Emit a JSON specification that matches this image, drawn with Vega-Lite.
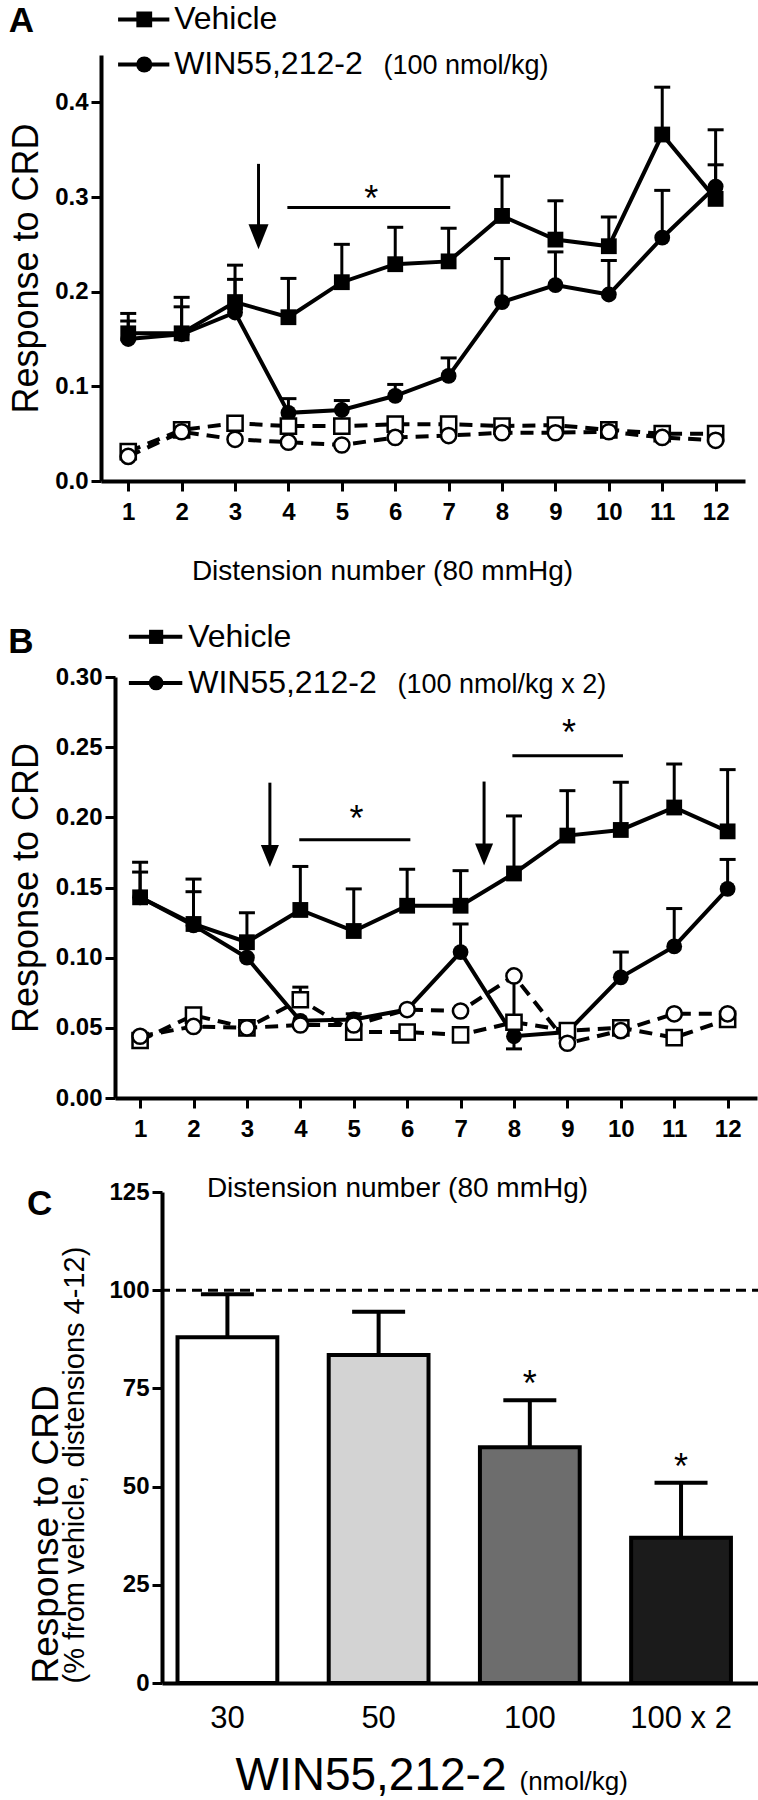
{
  "$schema": "https://vega.github.io/schema/vega-lite/v6.json",
  "padding": {"left": 1, "top": 3, "right": 0, "bottom": 0},
  "background": "white",
  "config": {
    "font": "Liberation Sans",
    "view": {"stroke": null},
    "axis": {"domainColor": "black", "domainWidth": 4, "tickColor": "black", "tickWidth": 3, "tickSize": 10, "labelColor": "black", "titleColor": "black", "grid": false, "labelFontWeight": "bold", "labelFontSize": 24, "titleFontWeight": "normal", "labelPadding": 3, "labelFlush": false, "labelOverlap": false},
    "title": {"color": "black", "fontWeight": "bold", "fontSize": 35, "font": "Liberation Sans"},
    "text": {"color": "black", "font": "Liberation Sans"},
    "point": {"opacity": 1},
    "tick": {"opacity": 1}
  },
  "datasets": {
    "a": [
      {"n":1,"drug":"Vehicle","style":"filled","value":0.156,"end":0.177},
      {"n":2,"drug":"Vehicle","style":"filled","value":0.156,"end":0.194},
      {"n":3,"drug":"Vehicle","style":"filled","value":0.189,"end":0.228},
      {"n":4,"drug":"Vehicle","style":"filled","value":0.173,"end":0.214},
      {"n":5,"drug":"Vehicle","style":"filled","value":0.210,"end":0.250},
      {"n":6,"drug":"Vehicle","style":"filled","value":0.229,"end":0.268},
      {"n":7,"drug":"Vehicle","style":"filled","value":0.232,"end":0.267},
      {"n":8,"drug":"Vehicle","style":"filled","value":0.280,"end":0.322},
      {"n":9,"drug":"Vehicle","style":"filled","value":0.255,"end":0.296},
      {"n":10,"drug":"Vehicle","style":"filled","value":0.248,"end":0.279},
      {"n":11,"drug":"Vehicle","style":"filled","value":0.366,"end":0.416},
      {"n":12,"drug":"Vehicle","style":"filled","value":0.298,"end":0.371},
      {"n":1,"drug":"WIN","style":"filled","value":0.150,"end":0.169},
      {"n":2,"drug":"WIN","style":"filled","value":0.155,"end":0.184},
      {"n":3,"drug":"WIN","style":"filled","value":0.178,"end":0.213},
      {"n":4,"drug":"WIN","style":"filled","value":0.072,"end":0.087},
      {"n":5,"drug":"WIN","style":"filled","value":0.075,"end":0.085},
      {"n":6,"drug":"WIN","style":"filled","value":0.090,"end":0.102},
      {"n":7,"drug":"WIN","style":"filled","value":0.111,"end":0.130},
      {"n":8,"drug":"WIN","style":"filled","value":0.189,"end":0.235},
      {"n":9,"drug":"WIN","style":"filled","value":0.207,"end":0.242},
      {"n":10,"drug":"WIN","style":"filled","value":0.197,"end":0.233},
      {"n":11,"drug":"WIN","style":"filled","value":0.257,"end":0.307},
      {"n":12,"drug":"WIN","style":"filled","value":0.311,"end":0.334},
      {"n":1,"drug":"Vehicle","style":"open","value":0.031,"end":null},
      {"n":2,"drug":"Vehicle","style":"open","value":0.054,"end":null},
      {"n":3,"drug":"Vehicle","style":"open","value":0.061,"end":null},
      {"n":4,"drug":"Vehicle","style":"open","value":0.058,"end":null},
      {"n":5,"drug":"Vehicle","style":"open","value":0.058,"end":null},
      {"n":6,"drug":"Vehicle","style":"open","value":0.060,"end":null},
      {"n":7,"drug":"Vehicle","style":"open","value":0.060,"end":null},
      {"n":8,"drug":"Vehicle","style":"open","value":0.058,"end":null},
      {"n":9,"drug":"Vehicle","style":"open","value":0.059,"end":null},
      {"n":10,"drug":"Vehicle","style":"open","value":0.054,"end":null},
      {"n":11,"drug":"Vehicle","style":"open","value":0.050,"end":null},
      {"n":12,"drug":"Vehicle","style":"open","value":0.050,"end":null},
      {"n":1,"drug":"WIN","style":"open","value":0.026,"end":null},
      {"n":2,"drug":"WIN","style":"open","value":0.052,"end":null},
      {"n":3,"drug":"WIN","style":"open","value":0.044,"end":null},
      {"n":4,"drug":"WIN","style":"open","value":0.041,"end":null},
      {"n":5,"drug":"WIN","style":"open","value":0.038,"end":null},
      {"n":6,"drug":"WIN","style":"open","value":0.046,"end":null},
      {"n":7,"drug":"WIN","style":"open","value":0.048,"end":null},
      {"n":8,"drug":"WIN","style":"open","value":0.051,"end":null},
      {"n":9,"drug":"WIN","style":"open","value":0.051,"end":null},
      {"n":10,"drug":"WIN","style":"open","value":0.052,"end":null},
      {"n":11,"drug":"WIN","style":"open","value":0.046,"end":null},
      {"n":12,"drug":"WIN","style":"open","value":0.043,"end":null}
    ],
    "b": [
      {"n":1,"drug":"Vehicle","style":"filled","value":0.143,"end":0.168},
      {"n":2,"drug":"Vehicle","style":"filled","value":0.124,"end":0.156},
      {"n":3,"drug":"Vehicle","style":"filled","value":0.111,"end":0.132},
      {"n":4,"drug":"Vehicle","style":"filled","value":0.134,"end":0.165},
      {"n":5,"drug":"Vehicle","style":"filled","value":0.119,"end":0.149},
      {"n":6,"drug":"Vehicle","style":"filled","value":0.137,"end":0.163},
      {"n":7,"drug":"Vehicle","style":"filled","value":0.137,"end":0.162},
      {"n":8,"drug":"Vehicle","style":"filled","value":0.160,"end":0.201},
      {"n":9,"drug":"Vehicle","style":"filled","value":0.187,"end":0.219},
      {"n":10,"drug":"Vehicle","style":"filled","value":0.191,"end":0.225},
      {"n":11,"drug":"Vehicle","style":"filled","value":0.207,"end":0.238},
      {"n":12,"drug":"Vehicle","style":"filled","value":0.190,"end":0.234},
      {"n":1,"drug":"WIN","style":"filled","value":0.143,"end":0.161},
      {"n":2,"drug":"WIN","style":"filled","value":0.123,"end":0.147},
      {"n":3,"drug":"WIN","style":"filled","value":0.100,"end":null},
      {"n":4,"drug":"WIN","style":"filled","value":0.055,"end":null},
      {"n":5,"drug":"WIN","style":"filled","value":0.056,"end":0.060},
      {"n":6,"drug":"WIN","style":"filled","value":0.063,"end":null},
      {"n":7,"drug":"WIN","style":"filled","value":0.104,"end":0.124},
      {"n":8,"drug":"WIN","style":"filled","value":0.044,"end":0.035},
      {"n":9,"drug":"WIN","style":"filled","value":0.047,"end":null},
      {"n":10,"drug":"WIN","style":"filled","value":0.086,"end":0.104},
      {"n":11,"drug":"WIN","style":"filled","value":0.108,"end":0.135},
      {"n":12,"drug":"WIN","style":"filled","value":0.149,"end":0.170},
      {"n":1,"drug":"Vehicle","style":"open","value":0.041,"end":null},
      {"n":2,"drug":"Vehicle","style":"open","value":0.059,"end":null},
      {"n":3,"drug":"Vehicle","style":"open","value":0.050,"end":null},
      {"n":4,"drug":"Vehicle","style":"open","value":0.070,"end":0.079},
      {"n":5,"drug":"Vehicle","style":"open","value":0.047,"end":null},
      {"n":6,"drug":"Vehicle","style":"open","value":0.047,"end":null},
      {"n":7,"drug":"Vehicle","style":"open","value":0.045,"end":null},
      {"n":8,"drug":"Vehicle","style":"open","value":0.054,"end":null},
      {"n":9,"drug":"Vehicle","style":"open","value":0.048,"end":null},
      {"n":10,"drug":"Vehicle","style":"open","value":0.050,"end":null},
      {"n":11,"drug":"Vehicle","style":"open","value":0.043,"end":null},
      {"n":12,"drug":"Vehicle","style":"open","value":0.056,"end":null},
      {"n":1,"drug":"WIN","style":"open","value":0.044,"end":null},
      {"n":2,"drug":"WIN","style":"open","value":0.051,"end":null},
      {"n":3,"drug":"WIN","style":"open","value":0.050,"end":null},
      {"n":4,"drug":"WIN","style":"open","value":0.052,"end":null},
      {"n":5,"drug":"WIN","style":"open","value":0.052,"end":null},
      {"n":6,"drug":"WIN","style":"open","value":0.063,"end":null},
      {"n":7,"drug":"WIN","style":"open","value":0.062,"end":null},
      {"n":8,"drug":"WIN","style":"open","value":0.087,"end":0.058},
      {"n":9,"drug":"WIN","style":"open","value":0.039,"end":null},
      {"n":10,"drug":"WIN","style":"open","value":0.048,"end":null},
      {"n":11,"drug":"WIN","style":"open","value":0.060,"end":null},
      {"n":12,"drug":"WIN","style":"open","value":0.060,"end":null}
    ],
    "c": [
      {"dose":"30","value":88,"end":99,"star":false},
      {"dose":"50","value":83.5,"end":94.5,"star":false},
      {"dose":"100","value":60,"end":72,"star":true},
      {"dose":"100 x 2","value":37,"end":51,"star":true}
    ]
  },
  "spacing": 35,
  "vconcat": [
    {
      "spacing": 0,
      "hconcat": [
        {"width": 1, "height": 1, "data": {"values": [{}]}, "mark": {"type": "point", "opacity": 0}, "encoding": {}},
        {
          "width": 644,
          "height": 426,
          "title": {"text": "A", "anchor": "start", "frame": "bounds", "offset": -36},
          "layer": [
            {
              "data": {"name": "a"},
              "encoding": {
                "x": {"field": "n", "type": "quantitative", "scale": {"domain": [0.49, 12.55], "nice": false, "zero": false},
                  "axis": {"values": [1,2,3,4,5,6,7,8,9,10,11,12], "format": "d", "title": "Distension number (80 mmHg)", "titleFontSize": 28, "titleBaseline": "alphabetic", "titleY": 98, "titleX": 281, "titleAlign": "center", "labelPadding": 9}},
                "y": {"field": "value", "type": "quantitative", "scale": {"domain": [0, 0.45], "nice": false, "zero": false},
                  "axis": {"values": [0, 0.1, 0.2, 0.3, 0.4], "format": ".1f", "title": "Response to CRD", "titleFontSize": 36, "titlePadding": 9}}
              },
              "layer": [
                {"transform": [{"filter": "datum.style === 'open'"}], "mark": {"type": "line", "strokeDash": [13, 8], "strokeWidth": 4, "color": "black"}, "encoding": {"detail": {"field": "drug"}}},
                {"transform": [{"filter": "datum.style === 'filled'"}], "mark": {"type": "line", "strokeWidth": 4, "color": "black"}, "encoding": {"detail": {"field": "drug"}}},
                {"transform": [{"filter": "isValid(datum.end)"}], "mark": {"type": "rule", "strokeWidth": 3, "color": "black"}, "encoding": {"y2": {"field": "end"}}},
                {"transform": [{"filter": "isValid(datum.end)"}], "mark": {"type": "tick", "orient": "horizontal", "size": 16, "thickness": 3, "color": "black"}, "encoding": {"y": {"field": "end", "type": "quantitative"}}},
                {"transform": [{"filter": "datum.style === 'filled'"}], "mark": {"type": "point", "filled": true, "color": "black", "size": 250},
                  "encoding": {"shape": {"field": "drug", "type": "nominal", "scale": {"domain": ["Vehicle", "WIN"], "range": ["square", "circle"]}, "legend": null}}},
                {"transform": [{"filter": "datum.style === 'open'"}], "mark": {"type": "point", "filled": true, "fill": "white", "stroke": "black", "strokeWidth": 2.5, "size": 230},
                  "encoding": {"shape": {"field": "drug", "type": "nominal", "scale": {"domain": ["Vehicle", "WIN"], "range": ["square", "circle"]}, "legend": null}}}
              ]
            },
            {"data": {"values": [{}]}, "mark": {"type": "rule", "strokeWidth": 3, "color": "black"},
              "encoding": {"x": {"datum": 3.44, "type": "quantitative"}, "y": {"datum": 0.335, "type": "quantitative"}, "y2": {"datum": 0.262}}},
            {"data": {"values": [{}]}, "mark": {"type": "point", "shape": "M-0.8,-1L0.8,-1L0,1Z", "size": 625, "filled": true, "color": "black"},
              "encoding": {"x": {"datum": 3.44, "type": "quantitative"}, "y": {"datum": 0.258, "type": "quantitative"}}},
            {"data": {"values": [{}]}, "mark": {"type": "rule", "strokeWidth": 3, "color": "black"},
              "encoding": {"x": {"datum": 3.98, "type": "quantitative"}, "x2": {"datum": 7.03}, "y": {"datum": 0.289, "type": "quantitative"}}},
            {"data": {"values": [{}]}, "mark": {"type": "text", "text": "*", "fontSize": 36, "baseline": "alphabetic", "align": "center"},
              "encoding": {"x": {"datum": 5.55, "type": "quantitative"}, "y": {"datum": 0.2854, "type": "quantitative"}}},
            {"data": {"values": [{}]}, "mark": {"type": "rule", "strokeWidth": 4, "color": "black"},
              "encoding": {"x": {"datum": 0.81, "type": "quantitative"}, "x2": {"datum": 1.77}, "y": {"datum": 0.4876, "type": "quantitative"}}},
            {"data": {"values": [{}]}, "mark": {"type": "point", "shape": "square", "size": 250, "filled": true, "color": "black"},
              "encoding": {"x": {"datum": 1.3, "type": "quantitative"}, "y": {"datum": 0.4876, "type": "quantitative"}}},
            {"data": {"values": [{}]}, "mark": {"type": "text", "text": "Vehicle", "fontSize": 32, "baseline": "middle", "align": "left"},
              "encoding": {"x": {"datum": 1.86, "type": "quantitative"}, "y": {"datum": 0.4876, "type": "quantitative"}}},
            {"data": {"values": [{}]}, "mark": {"type": "rule", "strokeWidth": 4, "color": "black"},
              "encoding": {"x": {"datum": 0.81, "type": "quantitative"}, "x2": {"datum": 1.77}, "y": {"datum": 0.44, "type": "quantitative"}}},
            {"data": {"values": [{}]}, "mark": {"type": "point", "shape": "circle", "size": 260, "filled": true, "color": "black"},
              "encoding": {"x": {"datum": 1.3, "type": "quantitative"}, "y": {"datum": 0.44, "type": "quantitative"}}},
            {"data": {"values": [{}]}, "mark": {"type": "text", "text": "WIN55,212-2", "fontSize": 32, "baseline": "middle", "align": "left"},
              "encoding": {"x": {"datum": 1.86, "type": "quantitative"}, "y": {"datum": 0.44, "type": "quantitative"}}},
            {"data": {"values": [{}]}, "mark": {"type": "text", "text": "(100 nmol/kg)", "fontSize": 27, "baseline": "middle", "align": "left"},
              "encoding": {"x": {"datum": 5.78, "type": "quantitative"}, "y": {"datum": 0.438, "type": "quantitative"}}}
          ]
        }
      ]
    },
    {
      "columns": 1,
      "align": "none",
      "spacing": -22,
      "concat": [
        {
          "spacing": 0,
          "hconcat": [
            {"width": 1, "height": 1, "data": {"values": [{}]}, "mark": {"type": "point", "opacity": 0}, "encoding": {}},
            {
              "width": 642,
              "height": 421,
              "title": {"text": "B", "anchor": "start", "frame": "bounds", "offset": -39},
              "layer": [
                {
                  "data": {"name": "b"},
                  "encoding": {
                    "x": {"field": "n", "type": "quantitative", "scale": {"domain": [0.53, 12.55], "nice": false, "zero": false},
                      "axis": {"values": [1,2,3,4,5,6,7,8,9,10,11,12], "format": "d", "title": "Distension number (80 mmHg)", "titleFontSize": 28, "titleBaseline": "alphabetic", "titleY": 98, "titleX": 282, "titleAlign": "center", "labelPadding": 9}},
                    "y": {"field": "value", "type": "quantitative", "scale": {"domain": [0, 0.3], "nice": false, "zero": false},
                      "axis": {"values": [0, 0.05, 0.1, 0.15, 0.2, 0.25, 0.3], "format": ".2f", "title": "Response to CRD", "titleFontSize": 36, "titlePadding": 10}}
                  },
                  "layer": [
                    {"transform": [{"filter": "datum.style === 'open'"}], "mark": {"type": "line", "strokeDash": [13, 8], "strokeWidth": 4, "color": "black"}, "encoding": {"detail": {"field": "drug"}}},
                    {"transform": [{"filter": "datum.style === 'filled'"}], "mark": {"type": "line", "strokeWidth": 4, "color": "black"}, "encoding": {"detail": {"field": "drug"}}},
                    {"transform": [{"filter": "isValid(datum.end)"}], "mark": {"type": "rule", "strokeWidth": 3, "color": "black"}, "encoding": {"y2": {"field": "end"}}},
                    {"transform": [{"filter": "isValid(datum.end)"}], "mark": {"type": "tick", "orient": "horizontal", "size": 16, "thickness": 3, "color": "black"}, "encoding": {"y": {"field": "end", "type": "quantitative"}}},
                    {"transform": [{"filter": "datum.style === 'filled'"}], "mark": {"type": "point", "filled": true, "color": "black", "size": 250},
                      "encoding": {"shape": {"field": "drug", "type": "nominal", "scale": {"domain": ["Vehicle", "WIN"], "range": ["square", "circle"]}, "legend": null}}},
                    {"transform": [{"filter": "datum.style === 'open'"}], "mark": {"type": "point", "filled": true, "fill": "white", "stroke": "black", "strokeWidth": 2.5, "size": 230},
                      "encoding": {"shape": {"field": "drug", "type": "nominal", "scale": {"domain": ["Vehicle", "WIN"], "range": ["square", "circle"]}, "legend": null}}}
                  ]
                },
                {"data": {"values": [{}]}, "mark": {"type": "rule", "strokeWidth": 3, "color": "black"},
                  "encoding": {"x": {"datum": 3.43, "type": "quantitative"}, "y": {"datum": 0.2247, "type": "quantitative"}, "y2": {"datum": 0.176}}},
                {"data": {"values": [{}]}, "mark": {"type": "point", "shape": "M-0.82,-1L0.82,-1L0,1Z", "size": 484, "filled": true, "color": "black"},
                  "encoding": {"x": {"datum": 3.43, "type": "quantitative"}, "y": {"datum": 0.1725, "type": "quantitative"}}},
                {"data": {"values": [{}]}, "mark": {"type": "rule", "strokeWidth": 3, "color": "black"},
                  "encoding": {"x": {"datum": 7.44, "type": "quantitative"}, "y": {"datum": 0.2255, "type": "quantitative"}, "y2": {"datum": 0.177}}},
                {"data": {"values": [{}]}, "mark": {"type": "point", "shape": "M-0.82,-1L0.82,-1L0,1Z", "size": 484, "filled": true, "color": "black"},
                  "encoding": {"x": {"datum": 7.44, "type": "quantitative"}, "y": {"datum": 0.1735, "type": "quantitative"}}},
                {"data": {"values": [{}]}, "mark": {"type": "rule", "strokeWidth": 3, "color": "black"},
                  "encoding": {"x": {"datum": 3.98, "type": "quantitative"}, "x2": {"datum": 6.06}, "y": {"datum": 0.184, "type": "quantitative"}}},
                {"data": {"values": [{}]}, "mark": {"type": "text", "text": "*", "fontSize": 36, "baseline": "alphabetic", "align": "center"},
                  "encoding": {"x": {"datum": 5.05, "type": "quantitative"}, "y": {"datum": 0.1906, "type": "quantitative"}}},
                {"data": {"values": [{}]}, "mark": {"type": "rule", "strokeWidth": 3, "color": "black"},
                  "encoding": {"x": {"datum": 7.97, "type": "quantitative"}, "x2": {"datum": 10.04}, "y": {"datum": 0.2438, "type": "quantitative"}}},
                {"data": {"values": [{}]}, "mark": {"type": "text", "text": "*", "fontSize": 36, "baseline": "alphabetic", "align": "center"},
                  "encoding": {"x": {"datum": 9.03, "type": "quantitative"}, "y": {"datum": 0.2512, "type": "quantitative"}}},
                {"data": {"values": [{}]}, "mark": {"type": "rule", "strokeWidth": 4, "color": "black"},
                  "encoding": {"x": {"datum": 0.79, "type": "quantitative"}, "x2": {"datum": 1.79}, "y": {"datum": 0.3286, "type": "quantitative"}}},
                {"data": {"values": [{}]}, "mark": {"type": "point", "shape": "square", "size": 200, "filled": true, "color": "black"},
                  "encoding": {"x": {"datum": 1.3, "type": "quantitative"}, "y": {"datum": 0.3286, "type": "quantitative"}}},
                {"data": {"values": [{}]}, "mark": {"type": "text", "text": "Vehicle", "fontSize": 32, "baseline": "middle", "align": "left"},
                  "encoding": {"x": {"datum": 1.9, "type": "quantitative"}, "y": {"datum": 0.3286, "type": "quantitative"}}},
                {"data": {"values": [{}]}, "mark": {"type": "rule", "strokeWidth": 4, "color": "black"},
                  "encoding": {"x": {"datum": 0.79, "type": "quantitative"}, "x2": {"datum": 1.79}, "y": {"datum": 0.2958, "type": "quantitative"}}},
                {"data": {"values": [{}]}, "mark": {"type": "point", "shape": "circle", "size": 220, "filled": true, "color": "black"},
                  "encoding": {"x": {"datum": 1.3, "type": "quantitative"}, "y": {"datum": 0.2958, "type": "quantitative"}}},
                {"data": {"values": [{}]}, "mark": {"type": "text", "text": "WIN55,212-2", "fontSize": 32, "baseline": "middle", "align": "left"},
                  "encoding": {"x": {"datum": 1.9, "type": "quantitative"}, "y": {"datum": 0.2958, "type": "quantitative"}}},
                {"data": {"values": [{}]}, "mark": {"type": "text", "text": "(100 nmol/kg x 2)", "fontSize": 27, "baseline": "middle", "align": "left"},
                  "encoding": {"x": {"datum": 5.82, "type": "quantitative"}, "y": {"datum": 0.2945, "type": "quantitative"}}}
              ]
            }
          ]
        },
        {
          "spacing": 0,
          "hconcat": [
            {"width": 23, "height": 1, "data": {"values": [{}]}, "mark": {"type": "point", "opacity": 0}, "encoding": {}},
            {
              "width": 600,
              "height": 491,
              "title": {"text": "C", "anchor": "start", "frame": "bounds", "offset": -42},
              "data": {"name": "c"},
              "resolve": {"axis": {"x": "independent", "y": "independent"}},
              "layer": [
                {
                  "encoding": {
                    "x": {"field": "dose", "type": "nominal", "sort": ["30", "50", "100", "100 x 2"], "scale": {"paddingInner": 0.34, "paddingOuter": 0.154, "align": 0.333},
                      "axis": {"title": "WIN55,212-2", "titleFontSize": 46, "titleAnchor": "start", "titleAlign": "left", "titleX": 73, "titleY": 106, "titleBaseline": "alphabetic", "labelAngle": 0, "labelFontWeight": "normal", "labelFontSize": 31, "ticks": false, "labelPadding": 20}},
                    "y": {"field": "value", "type": "quantitative", "scale": {"domain": [0, 125], "nice": false},
                      "axis": {"values": [0, 25, 50, 75, 100, 125], "title": "(% from vehicle, distensions 4-12)", "titleFontSize": 29, "titleAnchor": "start", "titlePadding": 19}}
                  },
                  "layer": [
                    {"mark": {"type": "bar", "stroke": "black", "strokeWidth": 4},
                      "encoding": {"fill": {"field": "dose", "type": "nominal", "scale": {"domain": ["30", "50", "100", "100 x 2"], "range": ["#ffffff", "#d3d3d3", "#6d6d6d", "#1b1b1b"]}, "legend": null}}},
                    {"mark": {"type": "tick", "orient": "horizontal", "size": 53, "thickness": 4, "color": "black"},
                      "encoding": {"y": {"field": "end", "type": "quantitative"}}},
                    {"transform": [{"filter": "datum.star"}], "mark": {"type": "text", "text": "*", "fontSize": 36, "baseline": "alphabetic", "align": "center", "dy": -4},
                      "encoding": {"y": {"field": "end", "type": "quantitative"}}}
                  ]
                },
                {
                  "mark": {"type": "rule", "strokeWidth": 4, "color": "black"},
                  "encoding": {
                    "x": {"field": "dose", "type": "nominal", "sort": ["30", "50", "100", "100 x 2"],
                      "axis": {"title": "(nmol/kg)", "orient": "bottom", "labels": false, "ticks": false, "domain": false, "titleFontSize": 26, "titleAnchor": "start", "titleAlign": "left", "titleX": 357, "titleY": 106, "titleBaseline": "alphabetic"}},
                    "y": {"field": "value", "type": "quantitative",
                      "axis": {"title": "Response to CRD", "orient": "left", "labels": false, "ticks": false, "domain": false, "labelPadding": 0, "titleFontSize": 37, "titleAnchor": "start", "titlePadding": 97}},
                    "y2": {"field": "end"}
                  }
                },
                {
                  "data": {"values": [{}]},
                  "mark": {"type": "rule", "strokeDash": [10, 6], "strokeWidth": 3, "color": "black"},
                  "encoding": {"y": {"datum": 100, "type": "quantitative", "axis": null}}
                }
              ]
            }
          ]
        }
      ]
    }
  ]
}
